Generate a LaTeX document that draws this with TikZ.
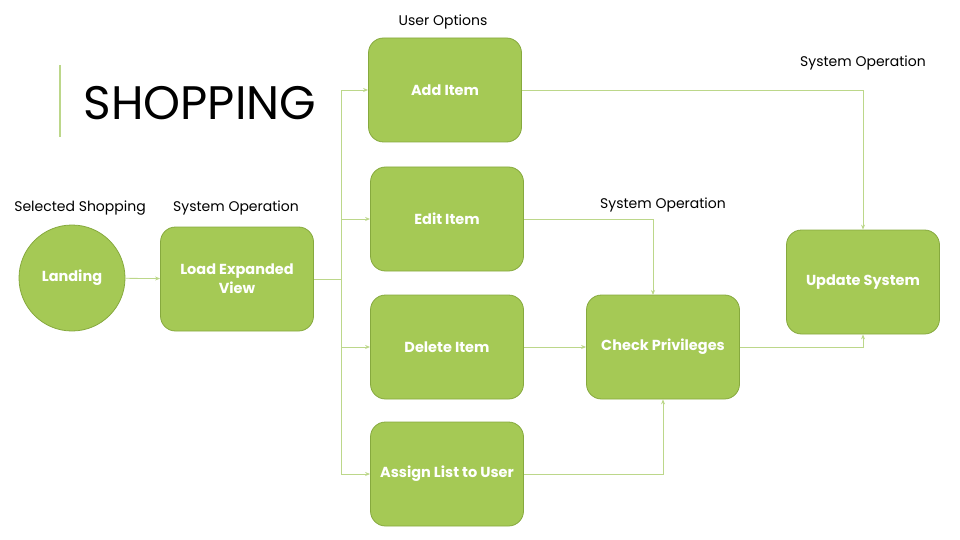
\documentclass[tikz,border=0pt]{standalone}
\usepackage{fontspec}
\setmainfont{Poppins}
\usetikzlibrary{arrows.meta}

\definecolor{leaf}{HTML}{A5C955}
\definecolor{leafdark}{HTML}{86A93E}
\definecolor{wire}{HTML}{BCD78A}

\begin{document}
\begin{tikzpicture}[x=1pt, y=-1pt]
  \tikzstyle{block} = [draw=leafdark, fill=leaf, line width=0.8pt, rounded corners=15pt,
                       minimum width=153pt, minimum height=104pt, align=center,
                       text=white, font=\fontsize{14.5}{19}\selectfont\bfseries];
  \tikzstyle{round_block} = [block, circle, minimum width=106pt, minimum height=106pt];
  \tikzstyle{caption} = [font=\fontsize{14}{16}\selectfont, text=black];
  \tikzstyle{link} = [draw=wire, line width=0.8pt, -{Stealth[length=5pt, width=4pt]}];

  \useasboundingbox (0, 0) rectangle (960, 540);

  % title
  \draw[wire, line width=1.6pt] (60, 65) -- (60, 137);
  \node[anchor=west, font=\fontsize{47}{52}\selectfont] (title) at (80, 103) {SHOPPING};

  % blocks
  \node[round_block] (landing) at (72, 278)  {Landing};
  \node[block]       (load)    at (237, 279) {Load Expanded\\View};

  \node[block] (add)    at (445, 90)  {Add Item};
  \node[block] (edit)   at (447, 219) {Edit Item};
  \node[block] (delete) at (447, 347) {Delete Item};
  \node[block] (assign) at (447, 474) {Assign List to User};

  \node[block] (check)  at (663, 347) {Check Privileges};
  \node[block] (update) at (863, 282) {Update System};

  % captions
  \node[caption] (sel_cap)    at (80, 208)  {Selected Shopping};
  \node[caption] (load_cap)   at (236, 208) {System Operation};
  \node[caption] (user_cap)   at (443, 22)  {User Options};
  \node[caption] (check_cap)  at (663, 205) {System Operation};
  \node[caption] (update_cap) at (863, 63)  {System Operation};

  % connectors
  \coordinate (bus) at (341, 279);
  \coordinate (drop) at (653, 295);

  \draw[link] (landing) -- (load);
  \draw[draw=wire, line width=0.8pt] (load.east) -- (bus);
  \draw[link] (bus) |- (add.west);
  \draw[link] (bus) |- (edit.west);
  \draw[link] (bus) |- (delete.west);
  \draw[link] (bus) |- (assign.west);

  \draw[link] (add.east) -| (update.north);
  \draw[link] (edit.east) -| (drop);
  \draw[link] (delete) -- (check);
  \draw[link] (assign.east) -| (check.south);
  \draw[link] (check.east) -| (update.south);
\end{tikzpicture}
\end{document}
